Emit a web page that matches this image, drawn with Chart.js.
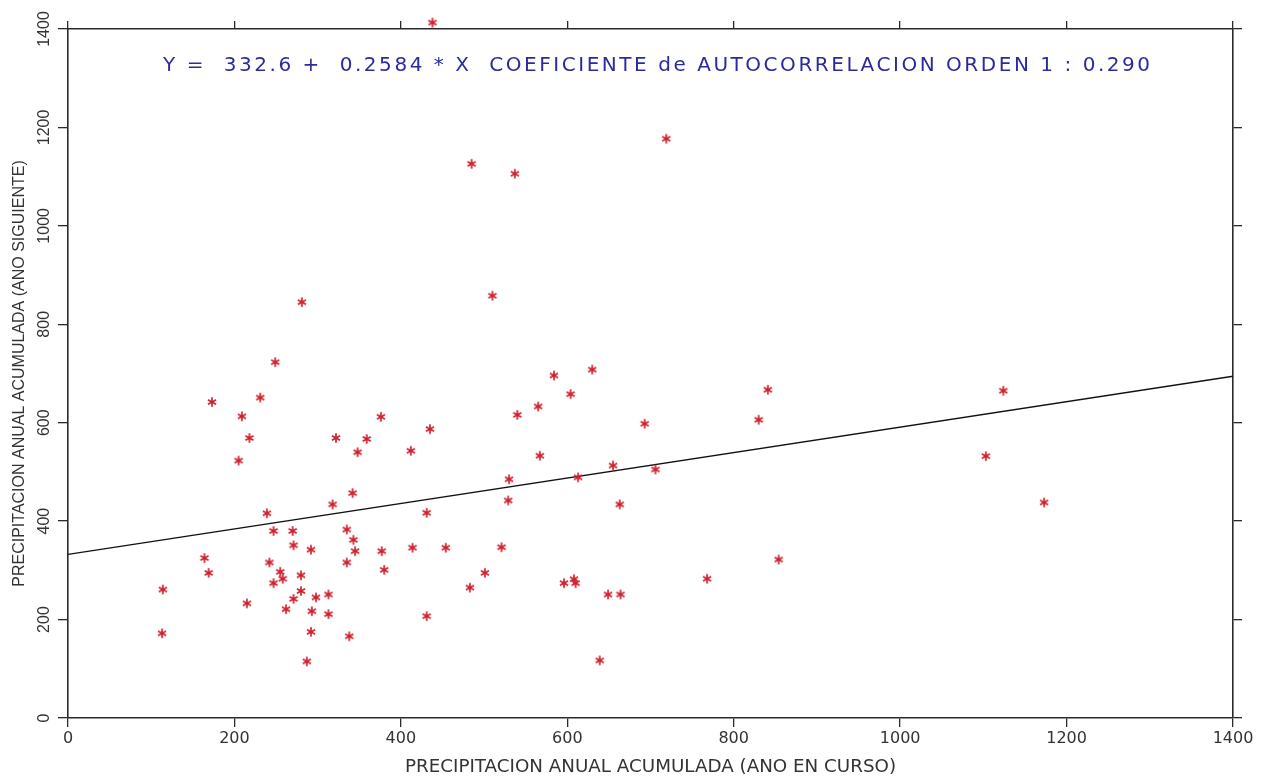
<!DOCTYPE html>
<html>
<head>
<meta charset="utf-8">
<script src="https://cdn.jsdelivr.net/npm/chart.js@4/dist/chart.umd.min.js"></script>
<style>
  html, body { margin: 0; padding: 0; background: #ffffff; }
  #wrap { width: 1267px; height: 780px; position: relative; }
</style>
</head>
<body>
<div id="wrap"><canvas id="c" width="1267" height="780"></canvas></div>
<script>
// ---- Data ----
const xCurrentYear = [438, 719, 485, 537, 510, 281, 249, 173, 231, 209, 218, 205, 322, 359, 376, 348, 412, 435,
  342, 318, 239, 431, 247, 270, 335, 271, 292, 343, 345, 377, 414, 454, 164, 169, 242, 335, 380, 255, 258, 280,
  247, 280, 271, 298, 313, 114, 215, 262, 293, 313, 431, 113, 292, 338, 287,
  584, 630, 604, 565, 540, 567, 841, 830, 693, 655, 706, 613, 530, 529, 663, 521, 501, 483, 596, 608, 610, 649,
  664, 768, 854, 639, 1124, 1103, 1173, 1409];
const yNextYear = [1413, 1177, 1126, 1106, 858, 845, 723, 642, 651, 613, 569, 523, 569, 567, 612, 540, 543, 587,
  457, 434, 416, 417, 380, 380, 383, 351, 342, 362, 339, 339, 346, 346, 325, 295, 316, 316, 301, 297, 283, 290,
  274, 258, 242, 245, 251, 261, 233, 221, 217, 211, 207, 172, 175, 166, 115,
  696, 708, 658, 633, 616, 533, 667, 606, 598, 513, 505, 489, 485, 442, 434, 347, 295, 265, 274, 282, 274, 251,
  251, 283, 322, 117, 665, 532, 438, 833];
const fitLineX = [0, 1400];
const fitLineY = [332.6, 694.4];
const xTickValues = [0, 200, 400, 600, 800, 1000, 1200, 1400];
const yTickValues = [0, 200, 400, 600, 800, 1000, 1200, 1400];
const equationText = "Y =  332.6 +  0.2584 * X  COEFICIENTE de AUTOCORRELACION ORDEN 1 : 0.290";
const xAxisTitle = "PRECIPITACION ANUAL ACUMULADA (ANO EN CURSO)";
const yAxisTitle = "PRECIPITACION ANUAL ACUMULADA (ANO SIGUIENTE)";

// ---- Asterisk marker ----
function makeAsterisk(color) {
  const s = 12, c = document.createElement('canvas');
  c.width = s; c.height = s;
  const g = c.getContext('2d');
  g.strokeStyle = color; g.lineWidth = 1.7; g.lineCap = 'butt';
  const r = 4.7, cx = s / 2, cy = s / 2;
  [90, 30, 150].forEach(a => {
    const t = a * Math.PI / 180;
    g.beginPath();
    g.moveTo(cx - r * Math.cos(t), cy - r * Math.sin(t));
    g.lineTo(cx + r * Math.cos(t), cy + r * Math.sin(t));
    g.stroke();
  });
  return c;
}
const star = makeAsterisk('#d0202e');

const points = xCurrentYear.map((x, i) => ({ x: x, y: yNextYear[i] }));
const fitPoints = fitLineX.map((x, i) => ({ x: x, y: fitLineY[i] }));

const axisColor = '#2a2a2a';
const textColor = '#333333';
const WIDE = "'DejaVu Sans', Verdana, sans-serif";
const NARROW = "'Liberation Sans', Arial, sans-serif";

function fixed(size) {
  return function (scale) {
    if (scale.isHorizontal()) scale.height = size; else scale.width = size;
  };
}
const plain = v => String(v);

const equationPlugin = {
  id: 'equation',
  afterDraw(chart) {
    const ctx = chart.ctx;
    ctx.save();
    ctx.font = "20px " + WIDE;
    ctx.fillStyle = '#2b2b9e';
    ctx.textBaseline = 'middle';
    ctx.textAlign = 'left';
    const target = 987;
    const w = ctx.measureText(equationText).width;
    const n = equationText.length;
    let ls = (target - w) / (n - 1);
    if (ls < 0) ls = 0;
    ctx.letterSpacing = ls.toFixed(2) + 'px';
    ctx.fillText(equationText, 163, 66);
    ctx.restore();
  }
};

new Chart(document.getElementById('c'), {
  type: 'scatter',
  data: {
    datasets: [
      {
        type: 'scatter',
        data: points,
        pointStyle: star,
        pointRadius: 6,
        clip: false,
        order: 1
      },
      {
        type: 'line',
        data: fitPoints,
        borderColor: '#111111',
        borderWidth: 1.3,
        pointRadius: 0,
        fill: false,
        order: 2
      }
    ]
  },
  options: {
    responsive: false,
    animation: false,
    events: [],
    layout: { padding: 0 },
    plugins: { legend: { display: false }, tooltip: { enabled: false } },
    scales: {
      x: {
        type: 'linear', position: 'bottom', min: 0, max: 1400,
        afterFit: fixed(62),
        afterBuildTicks: s => { s.ticks = xTickValues.map(v => ({ value: v })); },
        grid: { drawOnChartArea: false, drawTicks: true, tickLength: 9, color: axisColor, lineWidth: 1.3 },
        border: { display: true, color: axisColor, width: 1.6 },
        ticks: { color: textColor, font: { family: WIDE, size: 16 }, padding: 2, maxRotation: 0, callback: plain },
        title: { display: true, text: xAxisTitle, color: textColor, font: { family: WIDE, size: 18.3 }, padding: { top: 0, bottom: 2 } }
      },
      x2: {
        type: 'linear', position: 'top', min: 0, max: 1400,
        afterFit: fixed(29),
        afterBuildTicks: s => { s.ticks = xTickValues.map(v => ({ value: v })); },
        grid: { drawOnChartArea: false, drawTicks: true, tickLength: 8, color: axisColor, lineWidth: 1.3 },
        border: { display: true, color: axisColor, width: 1.6 },
        ticks: { display: false }
      },
      y: {
        type: 'linear', position: 'left', min: 0, max: 1400,
        afterFit: fixed(68),
        afterBuildTicks: s => { s.ticks = yTickValues.map(v => ({ value: v })); },
        grid: { drawOnChartArea: false, drawTicks: true, tickLength: 10, color: axisColor, lineWidth: 1.3 },
        border: { display: true, color: axisColor, width: 1.6 },
        ticks: { color: textColor, font: { family: NARROW, size: 16 }, padding: -4, minRotation: 90, maxRotation: 90, crossAlign: 'center', callback: plain },
        title: { display: true, text: yAxisTitle, color: textColor, font: { family: NARROW, size: 16 }, padding: { top: 10, bottom: 0 } }
      },
      y2: {
        type: 'linear', position: 'right', min: 0, max: 1400,
        afterFit: fixed(34),
        afterBuildTicks: s => { s.ticks = yTickValues.map(v => ({ value: v })); },
        grid: { drawOnChartArea: false, drawTicks: true, tickLength: 9, color: axisColor, lineWidth: 1.3 },
        border: { display: true, color: axisColor, width: 1.6 },
        ticks: { display: false }
      }
    }
  },
  plugins: [equationPlugin]
});
</script>
</body>
</html>
